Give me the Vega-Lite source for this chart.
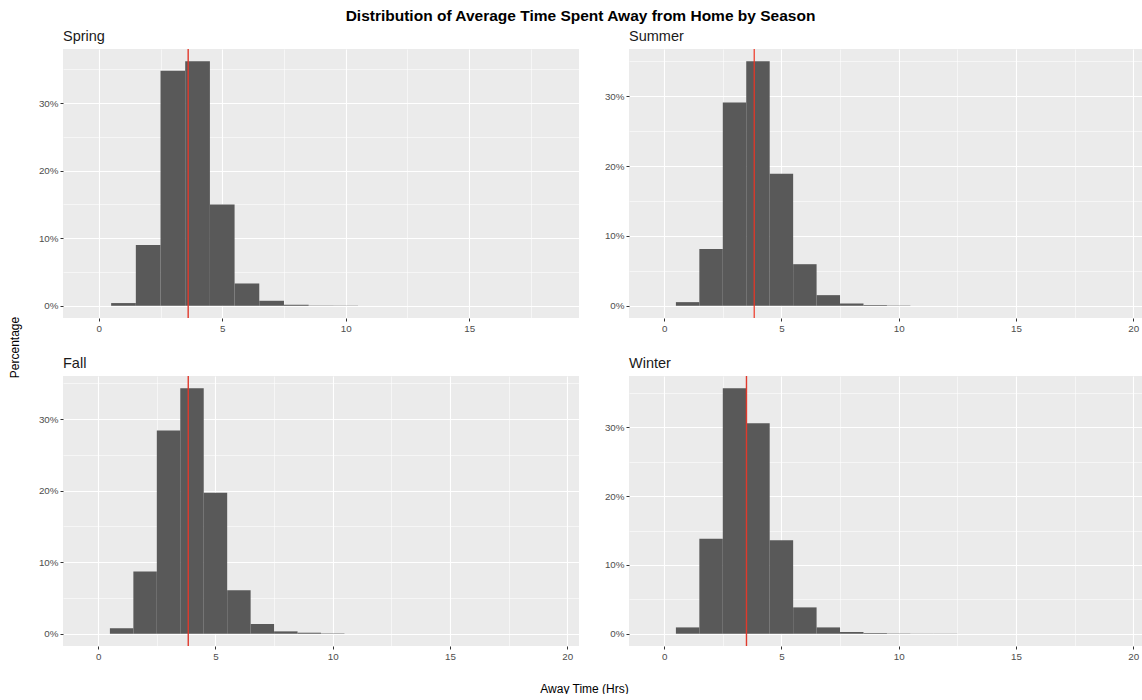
{
  "$schema": "https://vega.github.io/schema/vega-lite/v6.json",
  "padding": {"left": 8, "top": 9, "right": 0, "bottom": 0},
  "title": {"text": "Distribution of Average Time Spent Away from Home by Season", "fontSize": 15.5, "fontWeight": "bold", "font": "Liberation Sans", "color": "#000000", "anchor": "middle", "offset": 4, "dx": 5},
  "config": {
    "view": {"fill": "#EBEBEB", "stroke": null},
    "font": "Liberation Sans",
    "axis": {"domain": false, "labelFont": "Liberation Sans", "labelFontSize": 9.8, "labelColor": "#4D4D4D", "tickColor": "#333333", "tickSize": 3, "tickWidth": 1, "labelPadding": 2, "gridColor": "#FFFFFF", "gridWidth": 1.1, "gridOpacity": 1, "titleFont": "Liberation Sans", "titleFontWeight": "normal", "titleColor": "#000000", "titleFontSize": 12}
  },
  "datasets": {
    "bins": [
      {"season": "Spring", "x0": 0.5, "x1": 1.5, "pct": 0.004},
      {"season": "Spring", "x0": 1.5, "x1": 2.5, "pct": 0.090},
      {"season": "Spring", "x0": 2.5, "x1": 3.5, "pct": 0.348},
      {"season": "Spring", "x0": 3.5, "x1": 4.5, "pct": 0.362},
      {"season": "Spring", "x0": 4.5, "x1": 5.5, "pct": 0.150},
      {"season": "Spring", "x0": 5.5, "x1": 6.5, "pct": 0.033},
      {"season": "Spring", "x0": 6.5, "x1": 7.5, "pct": 0.0074},
      {"season": "Spring", "x0": 7.5, "x1": 8.5, "pct": 0.0015},
      {"season": "Spring", "x0": 8.5, "x1": 9.5, "pct": 0.0005},
      {"season": "Spring", "x0": 9.5, "x1": 10.5, "pct": 0.0003},
      {"season": "Summer", "x0": 0.5, "x1": 1.5, "pct": 0.0052},
      {"season": "Summer", "x0": 1.5, "x1": 2.5, "pct": 0.0814},
      {"season": "Summer", "x0": 2.5, "x1": 3.5, "pct": 0.291},
      {"season": "Summer", "x0": 3.5, "x1": 4.5, "pct": 0.350},
      {"season": "Summer", "x0": 4.5, "x1": 5.5, "pct": 0.189},
      {"season": "Summer", "x0": 5.5, "x1": 6.5, "pct": 0.0595},
      {"season": "Summer", "x0": 6.5, "x1": 7.5, "pct": 0.0152},
      {"season": "Summer", "x0": 7.5, "x1": 8.5, "pct": 0.0033},
      {"season": "Summer", "x0": 8.5, "x1": 9.5, "pct": 0.001},
      {"season": "Summer", "x0": 9.5, "x1": 10.5, "pct": 0.0004},
      {"season": "Fall", "x0": 0.5, "x1": 1.5, "pct": 0.0075},
      {"season": "Fall", "x0": 1.5, "x1": 2.5, "pct": 0.087},
      {"season": "Fall", "x0": 2.5, "x1": 3.5, "pct": 0.284},
      {"season": "Fall", "x0": 3.5, "x1": 4.5, "pct": 0.343},
      {"season": "Fall", "x0": 4.5, "x1": 5.5, "pct": 0.197},
      {"season": "Fall", "x0": 5.5, "x1": 6.5, "pct": 0.0607},
      {"season": "Fall", "x0": 6.5, "x1": 7.5, "pct": 0.0136},
      {"season": "Fall", "x0": 7.5, "x1": 8.5, "pct": 0.0033},
      {"season": "Fall", "x0": 8.5, "x1": 9.5, "pct": 0.0014},
      {"season": "Fall", "x0": 9.5, "x1": 10.5, "pct": 0.0005},
      {"season": "Winter", "x0": 0.5, "x1": 1.5, "pct": 0.0092},
      {"season": "Winter", "x0": 1.5, "x1": 2.5, "pct": 0.138},
      {"season": "Winter", "x0": 2.5, "x1": 3.5, "pct": 0.357},
      {"season": "Winter", "x0": 3.5, "x1": 4.5, "pct": 0.306},
      {"season": "Winter", "x0": 4.5, "x1": 5.5, "pct": 0.136},
      {"season": "Winter", "x0": 5.5, "x1": 6.5, "pct": 0.0383},
      {"season": "Winter", "x0": 6.5, "x1": 7.5, "pct": 0.0092},
      {"season": "Winter", "x0": 7.5, "x1": 8.5, "pct": 0.0024},
      {"season": "Winter", "x0": 8.5, "x1": 9.5, "pct": 0.001},
      {"season": "Winter", "x0": 9.5, "x1": 10.5, "pct": 0.0004},
      {"season": "Winter", "x0": 10.5, "x1": 11.5, "pct": 0.0002},
      {"season": "Winter", "x0": 11.5, "x1": 12.5, "pct": 0.0002}
    ],
    "means": [
      {"season": "Spring", "mean": 3.62},
      {"season": "Summer", "mean": 3.84},
      {"season": "Fall", "mean": 3.84},
      {"season": "Winter", "mean": 3.51}
    ]
  },
  "bounds": "flush",
  "columns": 2,
  "spacing": {"row": 58, "column": 50},
  "concat": [
    {
      "width": 516, "height": 269,
      "title": {"text": "Spring", "anchor": "start", "frame": "group", "fontSize": 14.5, "fontWeight": "normal", "font": "Liberation Sans", "color": "#1A1A1A", "offset": 4},
      "resolve": {"axis": {"x": "independent", "y": "independent"}},
      "layer": [
        {
          "data": {"name": "bins"},
          "transform": [{"filter": "datum.season === 'Spring'"}],
          "mark": {"type": "rect", "opacity": 0},
          "encoding": {
            "x": {"field": "x0", "type": "quantitative", "scale": {"domain": [-1.45, 19.45], "nice": false, "zero": false}, "axis": {"orient": "bottom", "values": [2.5, 7.5, 12.5, 17.5], "labels": false, "ticks": false, "grid": true, "gridWidth": 0.55, "title": null}},
            "x2": {"field": "x1"},
            "y": {"field": "pct", "type": "quantitative", "scale": {"domain": [-0.0181, 0.3801], "nice": false, "zero": false}, "axis": {"orient": "left", "values": [0.05, 0.15, 0.25, 0.35], "labels": false, "ticks": false, "grid": true, "gridWidth": 0.55, "title": null}},
            "y2": {"datum": 0}
          }
        },
        {
          "data": {"name": "bins"},
          "transform": [{"filter": "datum.season === 'Spring'"}],
          "mark": {"type": "rect", "color": "#595959"},
          "encoding": {
            "x": {"field": "x0", "type": "quantitative", "axis": {"orient": "bottom", "values": [0, 5, 10, 15], "grid": true, "title": null}},
            "x2": {"field": "x1"},
            "y": {"field": "pct", "type": "quantitative", "axis": {"orient": "left", "values": [0, 0.1, 0.2, 0.3], "format": ".0%", "grid": true, "title": "Percentage", "titleX": -42, "titleY": 298, "titleAlign": "center", "titleBaseline": "bottom", "titleAngle": 270}},
            "y2": {"datum": 0}
          }
        },
        {
          "data": {"name": "means"},
          "transform": [{"filter": "datum.season === 'Spring'"}],
          "mark": {"type": "rule", "color": "#E0392C", "strokeWidth": 1.4},
          "encoding": {"x": {"field": "mean", "type": "quantitative", "axis": null}}
        }
      ]
    },
    {
      "width": 514, "height": 269,
      "title": {"text": "Summer", "anchor": "start", "frame": "group", "fontSize": 14.5, "fontWeight": "normal", "font": "Liberation Sans", "color": "#1A1A1A", "offset": 4},
      "resolve": {"axis": {"x": "independent", "y": "independent"}},
      "layer": [
        {
          "data": {"name": "bins"},
          "transform": [{"filter": "datum.season === 'Summer'"}],
          "mark": {"type": "rect", "opacity": 0},
          "encoding": {
            "x": {"field": "x0", "type": "quantitative", "scale": {"domain": [-1.5, 20.42], "nice": false, "zero": false}, "axis": {"orient": "bottom", "values": [2.5, 7.5, 12.5, 17.5], "labels": false, "ticks": false, "grid": true, "gridWidth": 0.55, "title": null}},
            "x2": {"field": "x1"},
            "y": {"field": "pct", "type": "quantitative", "scale": {"domain": [-0.0175, 0.3675], "nice": false, "zero": false}, "axis": {"orient": "left", "values": [0.05, 0.15, 0.25, 0.35], "labels": false, "ticks": false, "grid": true, "gridWidth": 0.55, "title": null}},
            "y2": {"datum": 0}
          }
        },
        {
          "data": {"name": "bins"},
          "transform": [{"filter": "datum.season === 'Summer'"}],
          "mark": {"type": "rect", "color": "#595959"},
          "encoding": {
            "x": {"field": "x0", "type": "quantitative", "axis": {"orient": "bottom", "values": [0, 5, 10, 15, 20], "grid": true, "title": null}},
            "x2": {"field": "x1"},
            "y": {"field": "pct", "type": "quantitative", "axis": {"orient": "left", "values": [0, 0.1, 0.2, 0.3], "format": ".0%", "grid": true, "title": null}},
            "y2": {"datum": 0}
          }
        },
        {
          "data": {"name": "means"},
          "transform": [{"filter": "datum.season === 'Summer'"}],
          "mark": {"type": "rule", "color": "#EE3524", "strokeWidth": 1.2},
          "encoding": {"x": {"field": "mean", "type": "quantitative", "axis": null}}
        }
      ]
    },
    {
      "width": 516, "height": 270,
      "title": {"text": "Fall", "anchor": "start", "frame": "group", "fontSize": 14.5, "fontWeight": "normal", "font": "Liberation Sans", "color": "#1A1A1A", "offset": 4},
      "resolve": {"axis": {"x": "independent", "y": "independent"}},
      "layer": [
        {
          "data": {"name": "bins"},
          "transform": [{"filter": "datum.season === 'Fall'"}],
          "mark": {"type": "rect", "opacity": 0},
          "encoding": {
            "x": {"field": "x0", "type": "quantitative", "scale": {"domain": [-1.5, 20.5], "nice": false, "zero": false}, "axis": {"orient": "bottom", "values": [2.5, 7.5, 12.5, 17.5], "labels": false, "ticks": false, "grid": true, "gridWidth": 0.55, "title": null}},
            "x2": {"field": "x1"},
            "y": {"field": "pct", "type": "quantitative", "scale": {"domain": [-0.01715, 0.36015], "nice": false, "zero": false}, "axis": {"orient": "left", "values": [0.05, 0.15, 0.25, 0.35], "labels": false, "ticks": false, "grid": true, "gridWidth": 0.55, "title": null}},
            "y2": {"datum": 0}
          }
        },
        {
          "data": {"name": "bins"},
          "transform": [{"filter": "datum.season === 'Fall'"}],
          "mark": {"type": "rect", "color": "#595959"},
          "encoding": {
            "x": {"field": "x0", "type": "quantitative", "axis": {"orient": "bottom", "values": [0, 5, 10, 15, 20], "grid": true, "title": "Away Time (Hrs)", "titleX": 521, "titleY": 46, "titleAlign": "center", "titleBaseline": "alphabetic"}},
            "x2": {"field": "x1"},
            "y": {"field": "pct", "type": "quantitative", "axis": {"orient": "left", "values": [0, 0.1, 0.2, 0.3], "format": ".0%", "grid": true, "title": null}},
            "y2": {"datum": 0}
          }
        },
        {
          "data": {"name": "means"},
          "transform": [{"filter": "datum.season === 'Fall'"}],
          "mark": {"type": "rule", "color": "#E0392C", "strokeWidth": 1.4},
          "encoding": {"x": {"field": "mean", "type": "quantitative", "axis": null}}
        }
      ]
    },
    {
      "width": 514, "height": 270,
      "title": {"text": "Winter", "anchor": "start", "frame": "group", "fontSize": 14.5, "fontWeight": "normal", "font": "Liberation Sans", "color": "#1A1A1A", "offset": 4},
      "resolve": {"axis": {"x": "independent", "y": "independent"}},
      "layer": [
        {
          "data": {"name": "bins"},
          "transform": [{"filter": "datum.season === 'Winter'"}],
          "mark": {"type": "rect", "opacity": 0},
          "encoding": {
            "x": {"field": "x0", "type": "quantitative", "scale": {"domain": [-1.5, 20.42], "nice": false, "zero": false}, "axis": {"orient": "bottom", "values": [2.5, 7.5, 12.5, 17.5], "labels": false, "ticks": false, "grid": true, "gridWidth": 0.55, "title": null}},
            "x2": {"field": "x1"},
            "y": {"field": "pct", "type": "quantitative", "scale": {"domain": [-0.01785, 0.37485], "nice": false, "zero": false}, "axis": {"orient": "left", "values": [0.05, 0.15, 0.25, 0.35], "labels": false, "ticks": false, "grid": true, "gridWidth": 0.55, "title": null}},
            "y2": {"datum": 0}
          }
        },
        {
          "data": {"name": "bins"},
          "transform": [{"filter": "datum.season === 'Winter'"}],
          "mark": {"type": "rect", "color": "#595959"},
          "encoding": {
            "x": {"field": "x0", "type": "quantitative", "axis": {"orient": "bottom", "values": [0, 5, 10, 15, 20], "grid": true, "title": null}},
            "x2": {"field": "x1"},
            "y": {"field": "pct", "type": "quantitative", "axis": {"orient": "left", "values": [0, 0.1, 0.2, 0.3], "format": ".0%", "grid": true, "title": null}},
            "y2": {"datum": 0}
          }
        },
        {
          "data": {"name": "means"},
          "transform": [{"filter": "datum.season === 'Winter'"}],
          "mark": {"type": "rule", "color": "#E0392C", "strokeWidth": 1.4},
          "encoding": {"x": {"field": "mean", "type": "quantitative", "axis": null}}
        }
      ]
    }
  ]
}
